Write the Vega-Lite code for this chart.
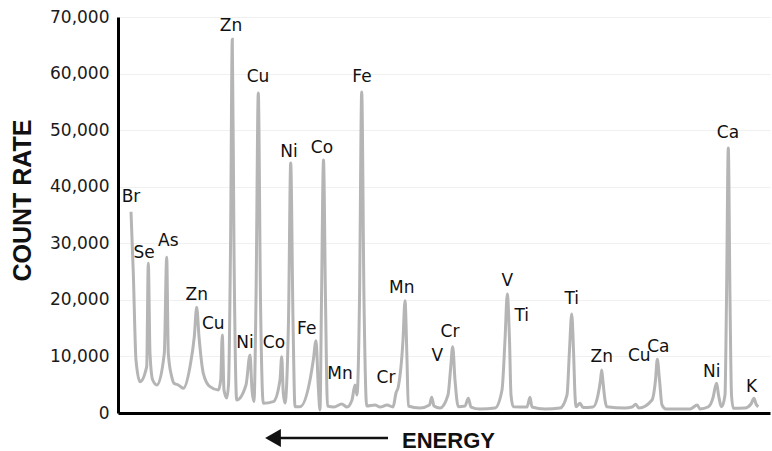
{
  "$schema": "https://vega.github.io/schema/vega-lite/v6.json",
  "width": 652,
  "height": 396,
  "autosize": "none",
  "padding": {"left": 118, "top": 17, "right": 2, "bottom": 38},
  "background": "white",
  "config": {"view": {"stroke": null}},
  "datasets": {
    "spectrum": [
      {"ch":131,"count":35580},{"ch":133.3,"count":24750},{"ch":136,"count":9370},{"ch":140,"count":5530},
      {"ch":146.7,"count":8190},{"ch":148.3,"count":26460},{"ch":150,"count":10550},{"ch":152.7,"count":5830},{"ch":157,"count":4950},
      {"ch":164.3,"count":10550},{"ch":166.7,"count":27520},{"ch":168.3,"count":10550},{"ch":171.7,"count":6420},{"ch":174,"count":5250},{"ch":178.3,"count":4950},{"ch":183.3,"count":4370},
      {"ch":190,"count":8190},{"ch":194.3,"count":13490},{"ch":196.7,"count":18680},{"ch":199,"count":13490},{"ch":203.3,"count":7020},{"ch":210,"count":4650},{"ch":218.3,"count":4070},
      {"ch":220.7,"count":5830},{"ch":222.3,"count":13790},{"ch":224,"count":4070},{"ch":226.7,"count":2650},
      {"ch":228.5,"count":4950},{"ch":230.5,"count":28810},{"ch":232.3,"count":66060},{"ch":234,"count":28810},{"ch":236.7,"count":2300},
      {"ch":246,"count":4950},{"ch":250,"count":10250},{"ch":252,"count":4070},{"ch":254,"count":2000},
      {"ch":256,"count":19980},{"ch":258.3,"count":56570},{"ch":260.5,"count":19980},{"ch":263.3,"count":1710},
      {"ch":273.3,"count":2000},{"ch":280,"count":5830},{"ch":281.7,"count":9950},{"ch":283.3,"count":3480},{"ch":285,"count":1770},
      {"ch":288.5,"count":16440},{"ch":290.7,"count":44190},{"ch":293,"count":16440},{"ch":295,"count":1110},
      {"ch":300,"count":1110},{"ch":310,"count":5830},{"ch":313.3,"count":9370},{"ch":316,"count":12780},{"ch":318.3,"count":4650},{"ch":320,"count":530},
      {"ch":321.5,"count":19980},{"ch":323.5,"count":44720},{"ch":325.5,"count":19980},{"ch":327.5,"count":1240},
      {"ch":334,"count":1060},{"ch":341.7,"count":1590},{"ch":347,"count":1060},{"ch":352,"count":2300},{"ch":355,"count":4950},{"ch":357,"count":3180},
      {"ch":359.5,"count":19980},{"ch":361.7,"count":56740},{"ch":364,"count":19980},{"ch":366.7,"count":1240},
      {"ch":375,"count":1410},{"ch":380,"count":1060},{"ch":387,"count":1410},{"ch":393,"count":1060},{"ch":396,"count":3540},{"ch":398.3,"count":4650},
      {"ch":403,"count":12900},{"ch":405,"count":19850},{"ch":407,"count":9370},{"ch":408.3,"count":1240},
      {"ch":420,"count":880},{"ch":429.5,"count":1410},{"ch":431.7,"count":2780},{"ch":434,"count":1240},{"ch":440,"count":880},
      {"ch":448,"count":3180},{"ch":450.5,"count":7600},{"ch":452.7,"count":11720},{"ch":455,"count":5830},{"ch":458.3,"count":1110},
      {"ch":465,"count":1240},{"ch":468.3,"count":2600},{"ch":471,"count":1060},{"ch":480,"count":710},{"ch":495,"count":880},
      {"ch":502,"count":4070},{"ch":505,"count":12900},{"ch":507.3,"count":21040},{"ch":509.5,"count":12900},{"ch":511,"count":3180},{"ch":513.3,"count":1110},
      {"ch":527,"count":1060},{"ch":530,"count":2780},{"ch":532,"count":1060},{"ch":545,"count":710},{"ch":560,"count":880},
      {"ch":567,"count":3180},{"ch":569.5,"count":11140},{"ch":571.7,"count":17500},{"ch":573.5,"count":11140},{"ch":575,"count":3180},{"ch":576,"count":1110},{"ch":580,"count":1710},{"ch":583,"count":970},
      {"ch":593,"count":1060},{"ch":598,"count":3180},{"ch":600.5,"count":5830},{"ch":601.7,"count":7600},{"ch":603,"count":5480},{"ch":605,"count":2300},{"ch":606.7,"count":1110},
      {"ch":625,"count":880},{"ch":632,"count":1060},{"ch":635.7,"count":1540},{"ch":639,"count":880},
      {"ch":652,"count":2300},{"ch":655.5,"count":5830},{"ch":657.3,"count":9490},{"ch":659.5,"count":5830},{"ch":662,"count":1410},{"ch":666,"count":710},
      {"ch":690,"count":710},{"ch":697.3,"count":1410},{"ch":700,"count":710},{"ch":708,"count":1060},{"ch":713.3,"count":2880},{"ch":715,"count":4420},{"ch":716.7,"count":5250},{"ch":718.5,"count":3180},{"ch":721.7,"count":1110},
      {"ch":725,"count":3180},{"ch":726.5,"count":19980},{"ch":728.3,"count":46840},{"ch":730,"count":19980},{"ch":731.5,"count":3180},{"ch":733.3,"count":830},
      {"ch":745,"count":880},{"ch":751,"count":1590},{"ch":754,"count":2600},{"ch":756,"count":1590},{"ch":758.3,"count":1110}
    ],
    "labels": [
      {"ch":131,"count":38180,"el":"Br"},
      {"ch":144,"count":28280,"el":"Se"},
      {"ch":168.3,"count":30460,"el":"As"},
      {"ch":196.7,"count":20860,"el":"Zn"},
      {"ch":213.3,"count":15730,"el":"Cu"},
      {"ch":231,"count":68410,"el":"Zn"},
      {"ch":245,"count":12370,"el":"Ni"},
      {"ch":258,"count":59400,"el":"Cu"},
      {"ch":289,"count":46140,"el":"Ni"},
      {"ch":322,"count":46840,"el":"Co"},
      {"ch":274,"count":12320,"el":"Co"},
      {"ch":306.7,"count":14850,"el":"Fe"},
      {"ch":362,"count":59400,"el":"Fe"},
      {"ch":340,"count":6890,"el":"Mn"},
      {"ch":386,"count":6130,"el":"Cr"},
      {"ch":401.7,"count":22150,"el":"Mn"},
      {"ch":437.3,"count":10080,"el":"V"},
      {"ch":450,"count":14370,"el":"Cr"},
      {"ch":507.3,"count":23390,"el":"V"},
      {"ch":521.7,"count":17200,"el":"Ti"},
      {"ch":571.7,"count":20100,"el":"Ti"},
      {"ch":601.7,"count":9950,"el":"Zn"},
      {"ch":639.3,"count":10080,"el":"Cu"},
      {"ch":658.3,"count":11610,"el":"Ca"},
      {"ch":711.7,"count":7300,"el":"Ni"},
      {"ch":728,"count":49500,"el":"Ca"},
      {"ch":751.7,"count":4650,"el":"K"}
    ]
  },
  "layer": [
    {
      "data": {"name": "spectrum"},
      "mark": {"type": "line", "color": "#b5b5b5", "strokeWidth": 3, "interpolate": "monotone"},
      "encoding": {
        "x": {
          "field": "ch", "type": "quantitative",
          "scale": {"domain": [118, 770], "nice": false, "zero": false},
          "axis": {
            "title": "ENERGY", "labels": false, "ticks": false, "grid": false,
            "domainColor": "#000", "domainWidth": 3,
            "titleFont": "Liberation Sans", "titleFontWeight": "bold", "titleFontSize": 22,
            "titleColor": "#111", "titlePadding": 17, "titleX": 330
          }
        },
        "y": {
          "field": "count", "type": "quantitative",
          "scale": {"domain": [0, 70000], "nice": false},
          "axis": {
            "title": "COUNT RATE", "values": [0, 10000, 20000, 30000, 40000, 50000, 60000, 70000],
            "labelExpr": "format(datum.value, ',')", "ticks": false, "labelPadding": 9,
            "labelFont": "DejaVu Sans", "labelFontSize": 17, "labelColor": "#1a1a1a",
            "domainColor": "#000", "domainWidth": 3,
            "grid": true, "gridColor": "#f0f0f0", "gridWidth": 1,
            "titleFont": "Liberation Sans", "titleFontWeight": "bold", "titleFontSize": 25,
            "titleColor": "#111", "titleBaseline": "middle", "titleX": -96, "titleY": 183,
            "titleAngle": -90
          }
        }
      }
    },
    {
      "data": {"name": "labels"},
      "mark": {"type": "text", "font": "DejaVu Sans", "fontSize": 17, "color": "#111", "baseline": "middle", "align": "center"},
      "encoding": {
        "x": {"field": "ch", "type": "quantitative"},
        "y": {"field": "count", "type": "quantitative"},
        "text": {"field": "el"}
      }
    },
    {
      "data": {"values": [{}]},
      "mark": {"type": "rule", "color": "#111", "strokeWidth": 2.5},
      "encoding": {
        "x": {"datum": 277, "type": "quantitative"},
        "x2": {"datum": 388},
        "y": {"datum": -4420, "type": "quantitative"}
      }
    },
    {
      "data": {"values": [{}]},
      "mark": {"type": "point", "shape": "triangle-left", "filled": true, "color": "#111", "size": 330, "opacity": 1},
      "encoding": {
        "x": {"datum": 273, "type": "quantitative"},
        "y": {"datum": -4420, "type": "quantitative"}
      }
    }
  ]
}
